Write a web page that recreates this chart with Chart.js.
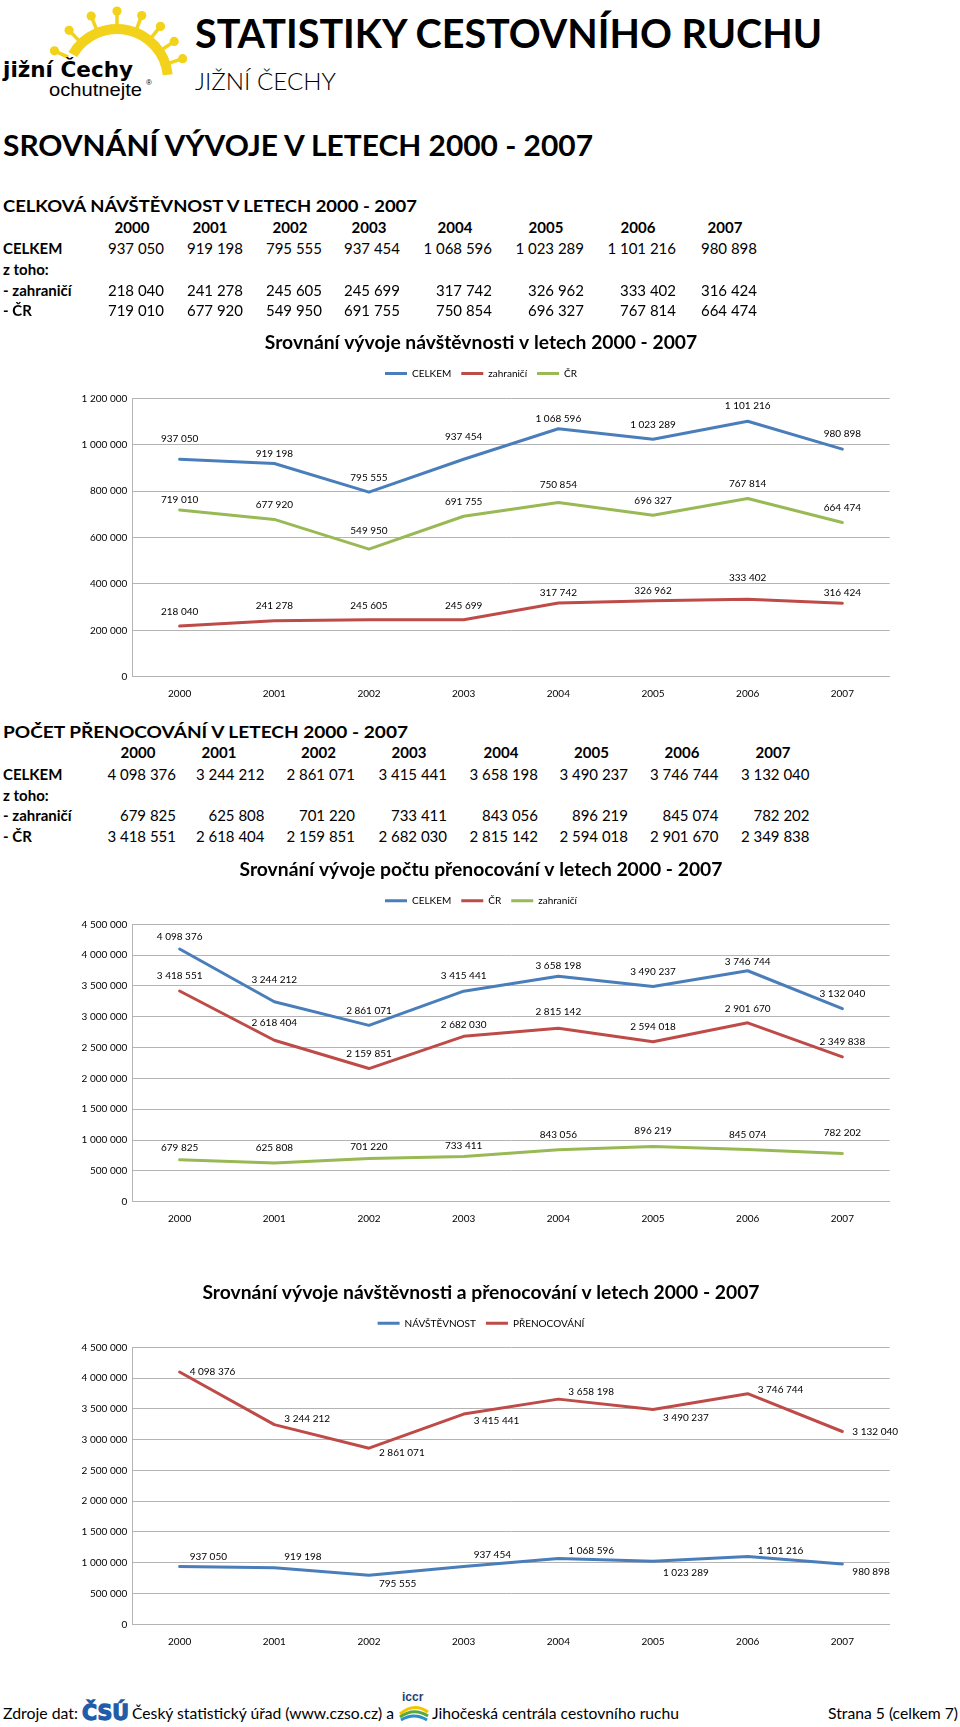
<!DOCTYPE html>
<html lang="cs">
<head>
<meta charset="utf-8">
<title>Statistiky cestovního ruchu – Jižní Čechy</title>
<script src="https://cdn.jsdelivr.net/npm/chart.js@4.4.1/dist/chart.umd.min.js"></script>
<style>
html,body{margin:0;padding:0;background:#fff}
body{width:960px;height:1727px;position:relative;overflow:hidden;font-family:Lato,sans-serif;color:#000}
.t{position:absolute;white-space:nowrap;line-height:1;transform-origin:left center;visibility:hidden}
canvas{position:absolute;left:0}
svg{position:absolute}
</style>
</head>
<body>
<svg id="logo" width="190" height="100" viewBox="0 0 190 100" style="left:0;top:0"></svg>
<svg id="iccr" width="34" height="34" viewBox="0 0 34 34" style="left:397px;top:1690px">
  <text x="5" y="11" font-family="Liberation Sans, Arial, sans-serif" font-size="12" fill="#1f3f7a" font-weight="bold">iccr</text>
  <path d="M3 24 Q17 12 31 22" fill="none" stroke="#f2c500" stroke-width="3"/>
  <path d="M3 27 Q17 17 31 26" fill="none" stroke="#5aa83a" stroke-width="3"/>
  <path d="M4 30 Q17 22 30 30" fill="none" stroke="#2a8fc9" stroke-width="3"/>
</svg>
<canvas id="c1"></canvas>
<canvas id="c2"></canvas>
<canvas id="c3"></canvas>
<script>
// ---------------- data ----------------
const years = ['2000','2001','2002','2003','2004','2005','2006','2007'];
const visitTotal    = [937050, 919198, 795555, 937454, 1068596, 1023289, 1101216, 980898];
const visitForeign  = [218040, 241278, 245605, 245699, 317742, 326962, 333402, 316424];
const visitDomestic = [719010, 677920, 549950, 691755, 750854, 696327, 767814, 664474];
const nightsTotal    = [4098376, 3244212, 2861071, 3415441, 3658198, 3490237, 3746744, 3132040];
const nightsForeign  = [679825, 625808, 701220, 733411, 843056, 896219, 845074, 782202];
const nightsDomestic = [3418551, 2618404, 2159851, 2682030, 2815142, 2594018, 2901670, 2349838];
const visitTicks  = [0, 200000, 400000, 600000, 800000, 1000000, 1200000];
const nightsTicks = [0, 500000, 1000000, 1500000, 2000000, 2500000, 3000000, 3500000, 4000000, 4500000];

const fmt = v => String(v).replace(/\B(?=(\d{3})+(?!\d))/g, ' ');
const BLUE = '#4A7EBB', RED = '#BE4B48', GREEN = '#98B954', GRID = '#B4B4B4';

// ---------------- text helpers ----------------
const ASC = {Lato: 0.887, DejaVu: 0.846, Lib: 0.8465};
const items = [];
function put(text, o) {
  const el = document.createElement('div');
  el.className = 't';
  el.textContent = text;
  const fam = o.fam || 'Lato';
  const famCss = fam === 'Lato' ? 'Lato' : fam === 'DejaVu' ? '"DejaVu Sans"' : '"Liberation Sans"';
  el.style.fontFamily = famCss + ',sans-serif';
  el.style.fontSize = o.size + 'px';
  el.style.fontWeight = o.w || 400;
  if (o.color) el.style.color = o.color;
  if (o.stroke) el.style.webkitTextStroke = o.stroke;
  el.style.top = (o.base - ASC[fam] * o.size) + 'px';
  document.body.appendChild(el);
  items.push({el, o});
  return el;
}
function layoutText() {
  items.forEach(({el, o}) => {
    const w = el.getBoundingClientRect().width;
    const s = o.fit ? o.fit / w : 1;
    const ws = w * s;
    const align = o.align || 'left';
    const left = align === 'left' ? o.x : align === 'right' ? o.x - ws : o.x - ws / 2;
    el.style.left = left + 'px';
    el.style.transform = 'scaleX(' + s + ')';
    el.style.transformOrigin = 'left center';
    el.style.visibility = 'visible';
  });
}

// header
put('STATISTIKY CESTOVNÍHO RUCHU', {x:195, base:48, size:40, w:700, fit:627});
put('JIŽNÍ ČECHY', {x:195, base:90.5, size:24, w:300, fit:141});
put('SROVNÁNÍ VÝVOJE V LETECH 2000 - 2007', {x:3, base:156, size:28, w:700, fit:590});
put('CELKOVÁ NÁVŠTĚVNOST V LETECH 2000 - 2007', {x:3, base:212, size:17, w:700, fit:414});
put('POČET PŘENOCOVÁNÍ V LETECH 2000 - 2007', {x:3, base:738.5, size:17, w:700, fit:405});

// logo texts
put('jižní Čechy', {x:3, base:77.5, size:22, w:700, fam:'DejaVu', fit:130});
put('ochutnejte', {x:49, base:96.5, size:19, w:400, fam:'Lib', fit:93});
put('®', {x:146, base:86, size:8, w:400, fam:'Lib'});

// tables
const tableLayout = [
  {base:[233.5, 254.8, 275.5, 296, 316.5],
   yearX:[132, 210, 290, 369, 455, 546, 638, 725],
   valR:[164, 243, 322, 400, 492, 584, 676, 757],
   rows:[visitTotal, visitForeign, visitDomestic]},
  {base:[758.3, 780, 801, 821.7, 842.7],
   yearX:[138, 219, 318.5, 409, 501, 591.5, 682, 773],
   valR:[176, 264.5, 355, 447, 538, 628, 718.5, 809.5],
   rows:[nightsTotal, nightsForeign, nightsDomestic]}
];
tableLayout.forEach(tb => {
  years.forEach((y, i) => put(y, {x:tb.yearX[i], base:tb.base[0], size:15, w:700, align:'center'}));
  put('CELKEM', {x:3, base:tb.base[1], size:15, w:700});
  put('z toho:', {x:3, base:tb.base[2], size:15, w:700});
  put('- zahraničí', {x:3, base:tb.base[3], size:15, w:700});
  put('- ČR', {x:3, base:tb.base[4], size:15, w:700});
  const rowBase = [tb.base[1], tb.base[3], tb.base[4]];
  tb.rows.forEach((row, r) => row.forEach((v, i) =>
    put(fmt(v), {x:tb.valR[i], base:rowBase[r], size:15, w:400, align:'right'})));
});

// footer
put('Zdroje dat:', {x:3, base:1719, size:16, w:400, fit:75});
put('ČSÚ', {x:82, base:1721, size:22, w:700, fam:'DejaVu', color:'#1F5DA8', stroke:'1.3px #1F5DA8', fit:47});
put('Český statistický úřad (www.czso.cz) a', {x:132, base:1719, size:16, w:400, fit:262});
put('Jihočeská centrála cestovního ruchu', {x:432, base:1719, size:16, w:400, fit:247});
put('Strana 5 (celkem 7)', {x:958, base:1719, size:16, w:400, fit:130, align:'right'});

// logo drawing (decorative)
(function () {
  const svg = document.getElementById('logo');
  const NS = 'http://www.w3.org/2000/svg';
  const cx = 117, cy = 80, r = 51, col = '#F2D21B';
  const P = (a, rr) => [cx + rr * Math.cos(a * Math.PI / 180), cy - rr * Math.sin(a * Math.PI / 180)];
  const s = P(150, r), e = P(6, r);
  const path = document.createElementNS(NS, 'path');
  path.setAttribute('d', `M${s[0]} ${s[1]} A${r} ${r} 0 0 1 ${e[0]} ${e[1]}`);
  path.setAttribute('fill', 'none'); path.setAttribute('stroke', col); path.setAttribute('stroke-width', '10');
  svg.appendChild(path);
  [18, 34, 51, 69, 90, 112, 134, 155].forEach(a => {
    const p1 = P(a, 54), p2 = P(a, 66), b = P(a, 69);
    const ln = document.createElementNS(NS, 'line');
    ln.setAttribute('x1', p1[0]); ln.setAttribute('y1', p1[1]);
    ln.setAttribute('x2', p2[0]); ln.setAttribute('y2', p2[1]);
    ln.setAttribute('stroke', col); ln.setAttribute('stroke-width', '3.5');
    svg.appendChild(ln);
    const c = document.createElementNS(NS, 'circle');
    c.setAttribute('cx', b[0]); c.setAttribute('cy', b[1]); c.setAttribute('r', '4.6');
    c.setAttribute('fill', col);
    svg.appendChild(c);
  });
})();

// ---------------- charts ----------------
const valueLabels = {
  id: 'valueLabels',
  afterDatasetsDraw(chart, args, o) {
    const ctx = chart.ctx;
    ctx.save();
    ctx.font = '10px Lato';
    ctx.fillStyle = '#000';
    ctx.textBaseline = 'middle';
    chart.data.datasets.forEach((ds, di) => {
      const meta = chart.getDatasetMeta(di);
      meta.data.forEach((pt, i) => {
        const t = fmt(ds.data[i]);
        if (o.side === 'right') {
          ctx.textAlign = 'left';
          const dy = ds.labelDy ? ds.labelDy[i] : 0;
          ctx.fillText(t, pt.x + o.gap, pt.y + dy);
        } else {
          ctx.textAlign = 'center';
          const lift = ds.labelLift ? ds.labelLift[i] : o.gap;
          ctx.fillText(t, pt.x, pt.y - lift);
        }
      });
    });
    ctx.restore();
  }
};
Chart.register(valueLabels);
Chart.defaults.font.family = 'Lato';
Chart.defaults.color = '#000';

const PLOT_L = 132.3, PLOT_R = 889.7, PAD_L = 72.3, PAD_R = 960 - PLOT_R;

function lineChart(id, geo, title, series, tickVals, labelSide) {
  const cv = document.getElementById(id);
  cv.style.top = geo.cTop + 'px';
  cv.width = 960;
  cv.height = geo.cBot - geo.cTop;
  const fs = geo.titleSize;
  const tPadTop = geo.titleY - geo.cTop - 0.6 * fs;
  const lgTop = geo.legendY - 15;
  let tPadBottom = lgTop - (geo.cTop + tPadTop + 1.2 * fs);
  let spacer = geo.top - (lgTop + 30) - 1;
  const chart = new Chart(cv, {
    type: 'line',
    data: {
      labels: years,
      datasets: series.map(s => ({
        label: s.label, data: s.data, labelDy: s.labelDy, labelLift: s.labelLift,
        borderColor: s.color, backgroundColor: s.color,
        borderWidth: 3, pointRadius: 0, pointHoverRadius: 0, tension: 0, fill: false,
        borderJoinStyle: 'round', borderCapStyle: 'round'
      }))
    },
    options: {
      responsive: false, animation: false, devicePixelRatio: 1,
      events: [],
      layout: {padding: {left: PAD_L, right: PAD_R, top: 0, bottom: 0}},
      plugins: {
        title: {display: true, text: title, color: '#000',
                font: {size: fs, weight: 'bold', family: 'Lato'},
                padding: {top: tPadTop, bottom: tPadBottom}},
        subtitle: {display: true, text: '', weight: 500, font: {size: 1, lineHeight: 1},
                   padding: {top: spacer, bottom: 0}},
        legend: {position: 'top', labels: {
          font: {size: 10, family: 'Lato'}, color: '#000', boxWidth: 22, boxHeight: 3, padding: 10,
          generateLabels(ch) {
            return Chart.defaults.plugins.legend.labels.generateLabels(ch)
              .map(l => Object.assign(l, {lineWidth: 0, fillStyle: l.strokeStyle}));
          }}},
        tooltip: {enabled: false},
        valueLabels: labelSide
      },
      scales: {
        x: {
          offset: true,
          grid: {display: false, drawTicks: false},
          border: {display: true, color: GRID, width: 1},
          ticks: {font: {size: 10}, color: '#000', padding: 11, maxRotation: 0, autoSkip: false},
          afterFit(s) { s.height = geo.cBot - geo.bottom; }
        },
        y: {
          min: tickVals[0], max: tickVals[tickVals.length - 1],
          grid: {color: GRID, lineWidth: 1, drawTicks: false},
          border: {display: true, color: GRID, width: 1},
          afterBuildTicks(s) { s.ticks = tickVals.map(v => ({value: v})); },
          ticks: {font: {size: 10}, color: '#000', padding: 5, callback: v => fmt(v)},
          afterFit(s) { s.width = PLOT_L - PAD_L; }
        }
      }
    }
  });
  // fine calibration of legend row and plot top
  for (let k = 0; k < 3; k++) {
    const hb = chart.legend.legendHitBoxes[0];
    const legC = hb.top + hb.height / 2;
    const dL = (geo.legendY - geo.cTop) - legC;
    tPadBottom += dL;
    spacer -= dL;
    const dA = (geo.top - geo.cTop) - chart.chartArea.top;
    spacer += dA;
    if (Math.abs(dL) < 0.05 && Math.abs(dA) < 0.05) break;
    chart.options.plugins.title.padding = {top: tPadTop, bottom: tPadBottom};
    chart.options.plugins.subtitle.padding = {top: Math.max(0, spacer), bottom: 0};
    chart.update('none');
  }
  return chart;
}

document.fonts.ready.then(() => {
  layoutText();

  lineChart('c1',
    {cTop: 318, cBot: 712, titleY: 343, legendY: 373.5, top: 398.3, bottom: 676.7, titleSize: 19.3},
    'Srovnání vývoje návštěvnosti v letech 2000 - 2007',
    [{label: 'CELKEM', data: visitTotal, color: BLUE, labelLift: [21, 10, 14.5, 22, 10, 14.3, 15.2, 15]},
     {label: 'zahraničí', data: visitForeign, color: RED, labelLift: [14, 14.7, 14, 14, 10, 9.8, 21.7, 11]},
     {label: 'ČR', data: visitDomestic, color: GREEN, labelLift: [10.2, 14.7, 18.8, 14.5, 17.5, 14.1, 14.6, 14.5]}],
    visitTicks, {side: 'above', gap: 15});

  lineChart('c2',
    {cTop: 846, cBot: 1236, titleY: 869.5, legendY: 900.7, top: 924.3, bottom: 1201.7, titleSize: 19.3},
    'Srovnání vývoje počtu přenocování v letech 2000 - 2007',
    [{label: 'CELKEM', data: nightsTotal, color: BLUE, labelLift: [12, 22, 14.6, 15, 10.5, 14.5, 8.7, 15]},
     {label: 'ČR', data: nightsDomestic, color: RED, labelLift: [14.7, 18, 15, 11.7, 16.5, 15, 14.5, 14.8]},
     {label: 'zahraničí', data: nightsForeign, color: GREEN, labelLift: [12, 15.4, 11.8, 10.8, 15.4, 15.5, 15.3, 21]}],
    nightsTicks, {side: 'above', gap: 15});

  lineChart('c3',
    {cTop: 1266, cBot: 1660, titleY: 1292.5, legendY: 1323.3, top: 1347.3, bottom: 1624.3, titleSize: 19.3},
    'Srovnání vývoje návštěvnosti a přenocování v letech 2000 - 2007',
    [{label: 'NÁVŠTĚVNOST', data: visitTotal, color: BLUE, labelDy: [-10, -11, 8, -12, -8, 11, -6, 8]},
     {label: 'PŘENOCOVÁNÍ', data: nightsTotal, color: RED, labelDy: [0, -6, 5, 7, -7, 8, -4, 0]}],
    nightsTicks, {side: 'right', gap: 10});
});
</script>
</body>
</html>
